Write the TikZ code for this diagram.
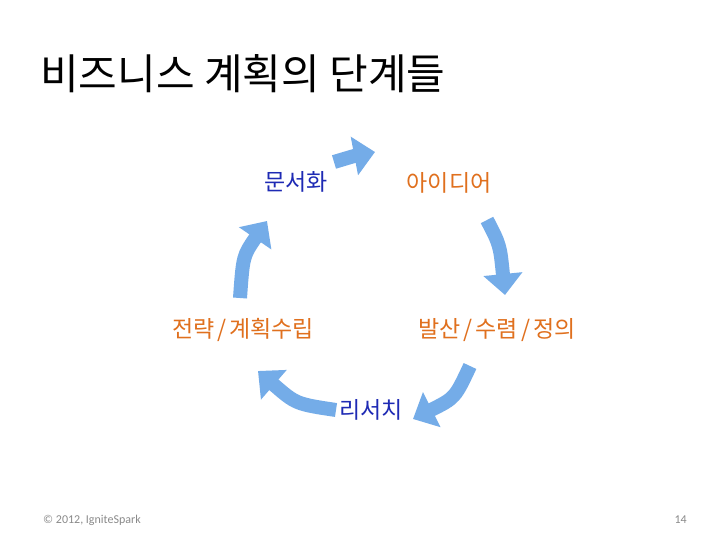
\documentclass[tikz,border=0pt]{standalone}
\usepackage{fontspec}
\setmainfont{Carlito}
\newfontfamily\kr{Noto Sans CJK KR}
\usetikzlibrary{arrows.meta}
\definecolor{arrowblue}{HTML}{74ACE8}
\definecolor{inkblue}{HTML}{1E2AB4}
\definecolor{inkorange}{HTML}{E0701E}
\definecolor{footgray}{HTML}{8A8A8A}
\newcommand{\myslash}{\kern3pt/\kern3pt}
\begin{document}
\begin{tikzpicture}[x=1pt,y=-1pt,
  lbl/.style={inner sep=0pt, font=\kr\fontsize{23}{25}\selectfont},
  bluelbl/.style={lbl, text=inkblue},
  orangelbl/.style={lbl, text=inkorange},
  cyclearrow/.style={draw=arrowblue, line width=14pt,
    -{Triangle[width=38pt,length=21pt]}},
  foot/.style={inner sep=0pt, text=footgray, font=\fontsize{12}{14}\selectfont}]
\useasboundingbox[fill=white] (0,0) rectangle (728,546);

\node[inner sep=0pt, anchor=west, font=\kr\fontsize{42}{44}\selectfont] (title) at (40,74) {비즈니스 계획의 단계들};

\node[bluelbl] (doc) at (296,182) {문서화};
\node[orangelbl] (idea) at (449,183) {아이디어};
\node[orangelbl] (diverge) at (497,330) {발산\myslash 수렴\myslash 정의};
\node[bluelbl] (research) at (371,410) {리서치};
\node[orangelbl] (strategy) at (243,330) {전략\myslash 계획수립};

\coordinate (a1s) at (334,162);
\coordinate (a1e) at (375,152);
\coordinate (a2s) at (487,220);
\coordinate (a2e) at (505,295);
\coordinate (a3s) at (470,366);
\coordinate (a3e) at (413,419);
\coordinate (a4s) at (336,410);
\coordinate (a4e) at (258,371);
\coordinate (a5s) at (240,298);
\coordinate (a5e) at (267,221);

\draw[cyclearrow] (a1s) .. controls (354,156) .. (a1e);
\draw[cyclearrow] (a2s) .. controls (500,245) .. (a2e);
\draw[cyclearrow] (a3s) .. controls (455,398) .. (a3e);
\draw[cyclearrow] (a4s) .. controls (296,404) .. (a4e);
\draw[cyclearrow] (a5s) .. controls (243,256) .. (a5e);

\node[foot, anchor=west] (copy) at (43,520) {© 2012, IgniteSpark};
\node[foot, anchor=east] (page) at (687,520) {14};
\end{tikzpicture}
\end{document}
